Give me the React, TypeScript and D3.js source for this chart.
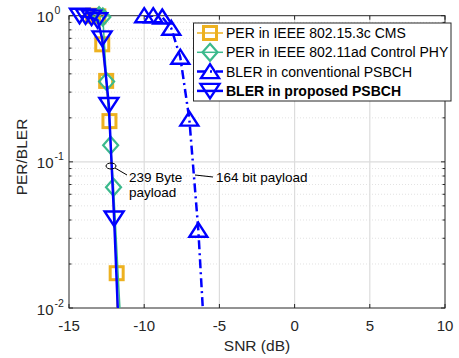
import * as d3 from "d3";
import { useEffect, useRef } from "react";

// SNR (dB) / error rate pairs
const cmsSnr = [-13.4, -13.05, -12.79, -12.53, -12.31, -11.83, -11.75];
const cmsPer = [1.0, 0.99, 0.637, 0.358, 0.19, 0.0173, 0.003];

const adSnr = [-13.0, -12.75, -12.5, -12.23, -12.04, -11.5];
const adPer = [1.0, 0.98, 0.354, 0.13, 0.067, 0.006];

const convSnr = [-10.0, -9.4, -8.8, -8.2, -7.6, -7.0, -6.4, -5.8];
const convBler = [1.0, 1.0, 0.98, 0.82, 0.52, 0.196, 0.034, 0.0028];

const propSnr = [-14.3, -13.9, -13.5, -13.1, -12.8, -12.35, -12.0, -11.6];
const propBler = [1.0, 0.99, 0.97, 0.93, 0.7, 0.245, 0.041, 0.004];

const xTicks = [-15, -10, -5, 0, 5, 10];
const yTicks = [1, 0.1, 0.01];
const yTickExp = ["0", "-1", "-2"];

const legendLabels = [
  "PER in IEEE 802.15.3c CMS",
  "PER in IEEE 802.11ad Control PHY",
  "BLER in conventional PSBCH",
  "BLER in proposed PSBCH",
];

const ORANGE = "#EDB120";
const GREEN = "#3BB98C";
const BLUE = "#0000FF";
const FONT = "'Liberation Sans', Arial, Helvetica, sans-serif";

export default function App() {
  const ref = useRef<SVGSVGElement>(null);

  useEffect(() => {
    if (!ref.current) return;
    const svg = d3.select(ref.current);
    svg.selectAll("*").remove();

    const left = 69;
    const right = 445;
    const top = 15.7;
    const bottom = 308;

    const x = d3.scaleLinear().domain([-15, 10]).range([left, right]);
    const y = d3.scaleLog().domain([0.01, 1]).range([bottom, top]);

    svg
      .append("defs")
      .append("clipPath")
      .attr("id", "plotclip")
      .append("rect")
      .attr("x", left)
      .attr("y", top)
      .attr("width", right - left)
      .attr("height", bottom - top);

    svg
      .append("rect")
      .attr("x", left)
      .attr("y", top)
      .attr("width", right - left)
      .attr("height", bottom - top)
      .attr("fill", "white");

    // grid
    const grid = svg.append("g");
    const minor: number[] = [];
    [0.01, 0.1].forEach((dec) => {
      for (let k = 2; k <= 9; k++) minor.push(dec * k);
    });
    grid
      .selectAll(".minor")
      .data(minor)
      .enter()
      .append("line")
      .attr("x1", left)
      .attr("x2", right)
      .attr("y1", (d) => y(d))
      .attr("y2", (d) => y(d))
      .attr("stroke", "#d6d6d6")
      .attr("stroke-width", 0.7)
      .attr("stroke-dasharray", "1,2");
    grid
      .selectAll(".majy")
      .data([0.1])
      .enter()
      .append("line")
      .attr("x1", left)
      .attr("x2", right)
      .attr("y1", (d) => y(d))
      .attr("y2", (d) => y(d))
      .attr("stroke", "#dcdcdc")
      .attr("stroke-width", 1.2);
    grid
      .selectAll(".majx")
      .data(xTicks.slice(1, -1))
      .enter()
      .append("line")
      .attr("x1", (d) => x(d))
      .attr("x2", (d) => x(d))
      .attr("y1", top)
      .attr("y2", bottom)
      .attr("stroke", "#dcdcdc")
      .attr("stroke-width", 1.2);

    // axes box and ticks
    const ax = svg.append("g").attr("stroke", "#262626").attr("stroke-width", 1);
    ax.append("rect")
      .attr("x", left)
      .attr("y", top)
      .attr("width", right - left)
      .attr("height", bottom - top)
      .attr("fill", "none");
    xTicks.forEach((t) => {
      ax.append("line").attr("x1", x(t)).attr("x2", x(t)).attr("y1", bottom).attr("y2", bottom - 4);
      ax.append("line").attr("x1", x(t)).attr("x2", x(t)).attr("y1", top).attr("y2", top + 4);
    });
    [...yTicks, ...minor].forEach((t) => {
      const len = yTicks.includes(t) ? 4 : 2.5;
      ax.append("line").attr("x1", left).attr("x2", left + len).attr("y1", y(t)).attr("y2", y(t));
      ax.append("line").attr("x1", right).attr("x2", right - len).attr("y1", y(t)).attr("y2", y(t));
    });

    // tick labels
    svg
      .append("g")
      .selectAll("text")
      .data(xTicks)
      .enter()
      .append("text")
      .attr("x", (d) => x(d))
      .attr("y", 330.5)
      .attr("text-anchor", "middle")
      .style("font-family", FONT)
      .style("font-size", "15px")
      .attr("fill", "#262626")
      .text((d) => String(d));

    yTicks.forEach((t, i) => {
      svg.append("text")
        .attr("x", 53.5)
        .attr("y", y(t) + 6.5)
        .attr("text-anchor", "end")
        .style("font-family", FONT)
        .style("font-size", "15px")
        .attr("fill", "#262626")
        .text("10");
      svg.append("text")
        .attr("x", 54.5)
        .attr("y", y(t) - 1.5)
        .style("font-family", FONT)
        .style("font-size", "10.5px")
        .attr("fill", "#262626")
        .text(yTickExp[i]);
    });

    svg
      .append("text")
      .attr("x", 257)
      .attr("y", 351)
      .attr("text-anchor", "middle")
      .style("font-family", FONT)
      .style("font-size", "15.5px")
      .attr("fill", "#262626")
      .text("SNR (dB)");
    svg
      .append("text")
      .attr("transform", `translate(27,157) rotate(-90)`)
      .attr("text-anchor", "middle")
      .style("font-family", FONT)
      .style("font-size", "15.5px")
      .attr("fill", "#262626")
      .text("PER/BLER");

    // marker shapes
    const sq = (g: any, cx: number, cy: number) =>
      g.append("rect")
        .attr("x", cx - 6.5).attr("y", cy - 6.5)
        .attr("width", 13).attr("height", 13)
        .attr("fill", "none").attr("stroke", ORANGE).attr("stroke-width", 3);
    const dia = (g: any, cx: number, cy: number) =>
      g.append("path")
        .attr("d", `M${cx},${cy - 8.5}L${cx + 7.5},${cy}L${cx},${cy + 8.5}L${cx - 7.5},${cy}Z`)
        .attr("fill", "none").attr("stroke", GREEN).attr("stroke-width", 2.2);
    const triUp = (g: any, cx: number, cy: number) =>
      g.append("path")
        .attr("d", `M${cx},${cy - 7.5}L${cx + 9},${cy + 6.5}L${cx - 9},${cy + 6.5}Z`)
        .attr("fill", "none").attr("stroke", BLUE).attr("stroke-width", 2.4)
        .attr("stroke-linejoin", "miter");
    const triDown = (g: any, cx: number, cy: number) =>
      g.append("path")
        .attr("d", `M${cx - 9.5},${cy - 7}L${cx + 9.5},${cy - 7}L${cx},${cy + 7.5}Z`)
        .attr("fill", "none").attr("stroke", BLUE).attr("stroke-width", 2.4)
        .attr("stroke-linejoin", "miter");

    const series = [
      { xs: cmsSnr, ys: cmsPer, color: ORANGE, width: 1.5, dash: null, mk: sq },
      { xs: adSnr, ys: adPer, color: GREEN, width: 1.5, dash: null, mk: dia },
      { xs: convSnr, ys: convBler, color: BLUE, width: 2.5, dash: "9,4,2,4", mk: triUp },
      { xs: propSnr, ys: propBler, color: BLUE, width: 2.5, dash: null, mk: triDown },
    ];

    const line = d3
      .line<[number, number]>()
      .x((d) => x(d[0]))
      .y((d) => y(d[1]));

    series.forEach((s) => {
      const pts: [number, number][] = s.xs.map((v, i) => [v, s.ys[i]]);
      const g = svg.append("g");
      g.append("path")
        .attr("d", line(pts))
        .attr("clip-path", "url(#plotclip)")
        .attr("fill", "none")
        .attr("stroke", s.color)
        .attr("stroke-width", s.width)
        .attr("stroke-dasharray", s.dash);
      pts
        .filter((p) => p[1] >= 0.01)
        .forEach((p) => s.mk(g, x(p[0]), y(p[1])));
    });

    // annotations
    const ann = svg.append("g");
    ann.append("ellipse")
      .attr("cx", 111).attr("cy", 166).attr("rx", 5).attr("ry", 3)
      .attr("fill", "none").attr("stroke", "black").attr("stroke-width", 1);
    ann.append("line")
      .attr("x1", 115).attr("y1", 168).attr("x2", 127).attr("y2", 175)
      .attr("stroke", "black").attr("stroke-width", 1);
    ann.append("text")
      .attr("x", 129).attr("y", 181.5)
      .style("font-family", FONT).style("font-size", "13.5px")
      .text("239 Byte");
    ann.append("text")
      .attr("x", 129).attr("y", 196.5)
      .style("font-family", FONT).style("font-size", "13.5px")
      .text("payload");
    ann.append("line")
      .attr("x1", 195).attr("y1", 175).attr("x2", 213).attr("y2", 177)
      .attr("stroke", "black").attr("stroke-width", 1);
    ann.append("text")
      .attr("x", 216).attr("y", 181.5)
      .style("font-family", FONT).style("font-size", "13.5px")
      .text("164 bit payload");

    // legend
    const lg = svg.append("g");
    lg.append("rect")
      .attr("x", 193.5).attr("y", 23).attr("width", 257.5).attr("height", 78)
      .attr("fill", "white").attr("stroke", "#262626").attr("stroke-width", 1);
    legendLabels.forEach((lab, i) => {
      const cy = 33 + i * 19.3;
      const s = series[i];
      lg.append("line")
        .attr("x1", 197).attr("x2", 223).attr("y1", cy).attr("y2", cy)
        .attr("stroke", s.color).attr("stroke-width", s.width)
        .attr("stroke-dasharray", s.dash);
      s.mk(lg, 210, cy);
      lg.append("text")
        .attr("x", 226).attr("y", cy + 5)
        .style("font-family", FONT)
        .style("font-size", "14px")
        .style("font-weight", i === 3 ? "bold" : "normal")
        .attr("fill", "black")
        .text(lab);
    });
  }, []);

  return (
    <div style={{ position: "absolute", left: 0, top: 0 }}>
      <svg ref={ref} width={459} height={358} style={{ display: "block", background: "white" }} />
    </div>
  );
}
